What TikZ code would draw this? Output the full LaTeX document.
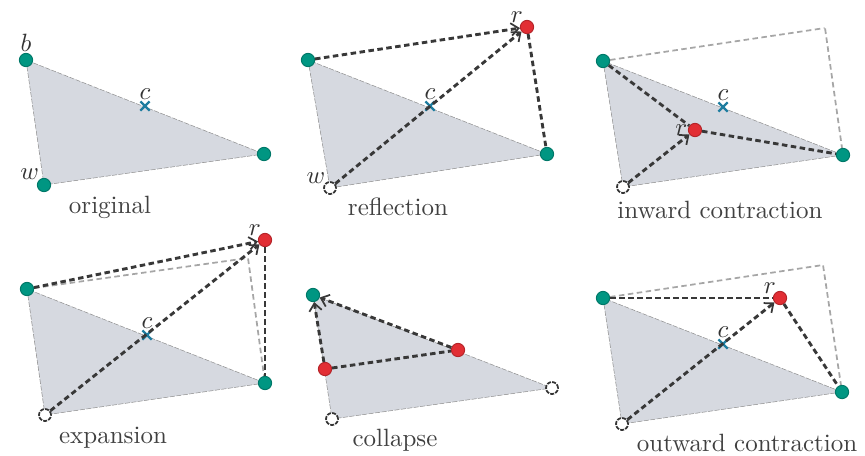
\documentclass[tikz,border=0pt]{standalone}
\usetikzlibrary{arrows.meta,shapes.misc,backgrounds}
\definecolor{vteal}{RGB}{0,150,130}
\definecolor{vred}{RGB}{226,46,52}
\definecolor{tgray}{RGB}{214,217,224}
\definecolor{cblue}{RGB}{30,125,160}
\begin{document}
\begin{tikzpicture}[x=0.4pt, y=-0.4pt,
    vNode/.style={circle, draw=vteal!80!black, fill=vteal, inner sep=0pt, minimum size=5.3pt},
    rNode/.style={circle, draw=vred!80!black, fill=vred, inner sep=0pt, minimum size=5.3pt},
    oNode/.style={circle, draw=black!80, line width=0.7pt, dash pattern=on 1.6pt off 0.5pt, fill=white, inner sep=0pt, minimum size=4.8pt},
    cNode/.style={cross out, draw=cblue, line width=0.9pt, inner sep=0pt, minimum size=2.8pt},
    gNode/.style={inner sep=0pt, minimum size=0pt},
    lbl/.style={font=\normalsize, inner sep=0.5pt, text=black!80},
    capText/.style={font=\normalsize, text=black!75},
    tri/.style={fill=tgray, draw=black!45, very thin, dash pattern=on 2pt off 0.6pt},
    move/.style={draw=black!78, line width=1.15pt, dash pattern=on 2.2pt off 1.4pt},
    ghost/.style={draw=black!35, line width=0.7pt, dash pattern=on 2.2pt off 1.4pt},
    arr/.style={-{Straight Barb[length=3pt, width=5pt, line width=0.7pt]}}
]
    \useasboundingbox (0,0) rectangle (865,455);

    % original
    \node[vNode, label={[lbl]above:$b$}] (b1) at (26,60) {};
    \node[vNode, label={[lbl, label distance=-1pt]above left:$w$}] (w1) at (44,185) {};
    \node[vNode] (v1) at (264,154) {};
    \node[cNode, label={[lbl]above:$c$}] (c1) at (145,106) {};
    \node[capText] (t1) at (110,207) {original};

    % reflection
    \node[vNode] (b2) at (308,60) {};
    \node[oNode, label={[lbl, label distance=-1pt]above left:$w$}] (w2) at (330,188) {};
    \node[vNode] (v2) at (547,154) {};
    \node[cNode, label={[lbl]above:$c$}] (c2) at (430,106) {};
    \node[rNode, label={[lbl, label distance=-1.5pt]above left:$r$}] (r2) at (527,27) {};
    \node[capText] (t2) at (398,207) {reflection};
    \path[move] (b2) edge[arr] (r2) (w2) edge[arr] (r2) (r2) edge (v2);

    % inward contraction
    \node[vNode] (b3) at (603,61) {};
    \node[oNode] (w3) at (623,187) {};
    \node[vNode] (v3) at (843,155) {};
    \node[cNode, label={[lbl]above:$c$}] (c3) at (723,107) {};
    \node[gNode] (g3) at (825,28) {};
    \node[rNode, label={[lbl, label distance=-0.5pt]left:$r$}] (r3) at (695,130) {};
    \node[capText] (t3) at (720,210) {inward contraction};
    \path[ghost] (b3) -- (g3) -- (v3);
    \path[move] (b3) edge (r3) (w3) edge[arr] (r3) (r3) edge (v3);

    % expansion
    \node[vNode] (b4) at (27,289) {};
    \node[oNode] (w4) at (45,415) {};
    \node[vNode] (v4) at (265,383) {};
    \node[cNode, label={[lbl]above:$c$}] (c4) at (147,335) {};
    \node[gNode] (g4) at (248,258) {};
    \node[rNode, label={[lbl, label distance=-1.5pt]above left:$r$}] (r4) at (265,240) {};
    \node[capText] (t4) at (113,438) {expansion};
    \path[ghost] (b4) -- (g4) -- (v4);
    \path[move] (b4) edge[arr] (r4) (w4) edge[arr] (r4) (r4) edge (v4);

    % collapse
    \node[vNode] (b5) at (313,295) {};
    \node[oNode] (w5) at (332,419) {};
    \node[oNode] (v5) at (552,388) {};
    \node[rNode] (m5) at (325,369) {};
    \node[rNode] (n5) at (458,350) {};
    \node[capText] (t5) at (395,440) {collapse};
    \path[move] (m5) edge[arr] (b5) (n5) edge[arr] (b5) (m5) edge (n5);

    % outward contraction
    \node[vNode] (b6) at (603,298) {};
    \node[oNode] (w6) at (622,424) {};
    \node[vNode] (v6) at (842,392) {};
    \node[cNode, label={[lbl]above:$c$}] (c6) at (723,344) {};
    \node[gNode] (g6) at (823,265) {};
    \node[rNode, label={[lbl, label distance=-1.5pt]above left:$r$}] (r6) at (780,298) {};
    \node[capText] (t6) at (747,443) {outward contraction};
    \path[ghost] (b6) -- (g6) -- (v6);
    \path[move] (b6) edge (r6) (w6) edge[arr] (r6) (r6) edge (v6);

    \begin{scope}[on background layer]
    \path[tri] (b1.center) -- (w1.center) -- (v1.center) -- cycle;
    \path[tri] (b2.center) -- (w2.center) -- (v2.center) -- cycle;
    \path[tri] (b3.center) -- (w3.center) -- (v3.center) -- cycle;
    \path[tri] (b4.center) -- (w4.center) -- (v4.center) -- cycle;
    \path[tri] (b5.center) -- (w5.center) -- (v5.center) -- cycle;
    \path[tri] (b6.center) -- (w6.center) -- (v6.center) -- cycle;
    \end{scope}
\end{tikzpicture}
\end{document}
